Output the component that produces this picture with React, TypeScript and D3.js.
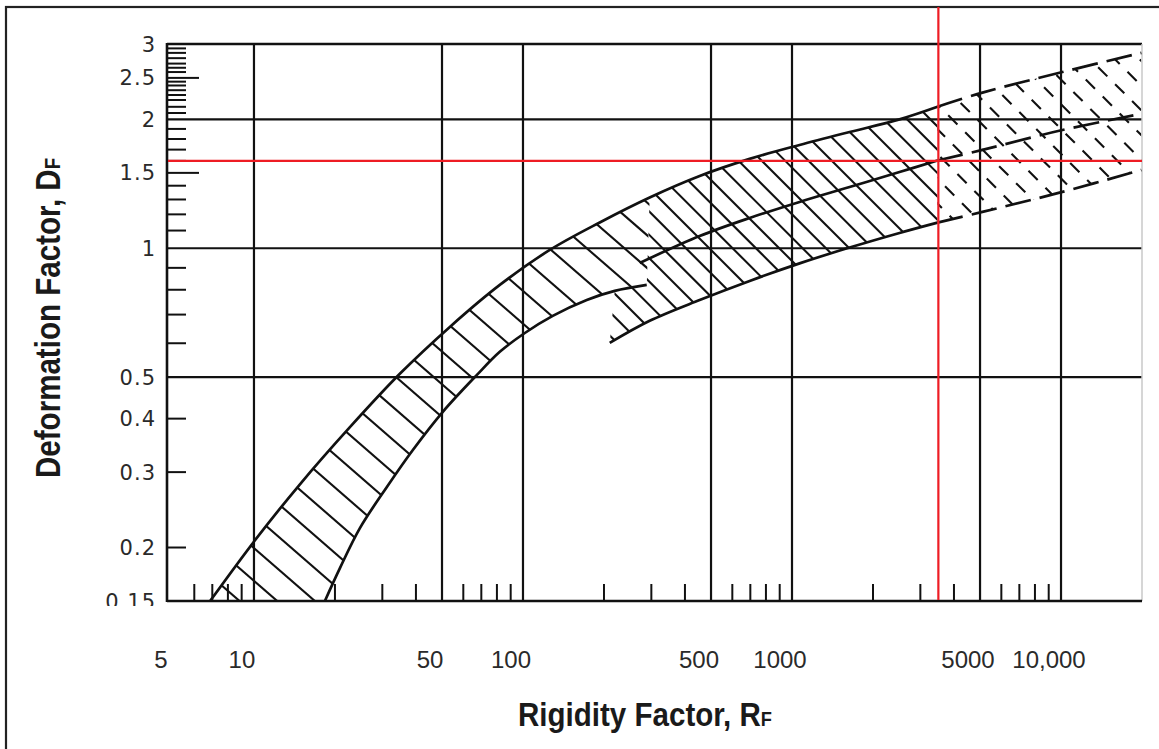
import React, { useEffect, useRef } from 'react';
import * as d3 from 'd3';

const WIDTH = 1159;
const HEIGHT = 749;

// Rigidity factor axis (log)
const xDomain = [4.75, 20000];
const xGridValues = [10, 50, 100, 500, 1000, 5000, 10000];
const xMinorValues = [6, 7, 8, 9, 20, 30, 40, 60, 70, 80, 90, 200, 300, 400, 600, 700, 800, 900,
  2000, 3000, 4000, 6000, 7000, 8000, 9000];
const xLabelValues = [5, 10, 50, 100, 500, 1000, 5000, 10000];

// Deformation factor axis (log)
const yDomain = [0.15, 3];
const yGridValues = [0.5, 1, 2];
const yMinorValues = [0.2, 0.3, 0.4, 0.6, 0.7, 0.8, 0.9, 1.1, 1.2, 1.3, 1.4, 1.6, 1.7, 1.8, 1.9,
  2.07, 2.14, 2.22, 2.28, 2.34, 2.4, 2.45, 2.58, 2.64, 2.7, 2.78, 2.86, 2.93];
const yLongValues = [1.5, 2.5];
const yLabelValues = [0.15, 0.2, 0.3, 0.4, 0.5, 1, 1.5, 2, 2.5, 3];

// red reading lines
const readRF = 3500;
const readDF = 1.6;

// band edges as [RF, DF]
const upperEdge = [[6.87, 0.15], [10.09, 0.208], [14.82, 0.281], [22.73, 0.382], [34.85, 0.509],
  [53.47, 0.655], [82, 0.821], [125.8, 0.991], [192.9, 1.149], [295.8, 1.314], [453.6, 1.475],
  [695.9, 1.617], [1067, 1.743], [1637, 1.869], [2510, 2.0], [3474, 2.14]];
const upperEdgeExt = [[3474, 2.14], [5105, 2.31], [10120, 2.58], [19890, 2.86]];
const middleEdge = [[271.6, 0.924], [453.6, 1.068], [695.9, 1.177], [1067, 1.283], [1637, 1.39],
  [2510, 1.507], [3474, 1.603]];
const middleEdgeExt = [[3474, 1.603], [5105, 1.697], [10120, 1.889], [19890, 2.06]];
const lowerEdgeA = [[18.35, 0.15], [20.87, 0.179], [24.76, 0.222], [31.19, 0.277], [38.96, 0.338],
  [50.36, 0.415], [67.4, 0.506], [82, 0.573], [101.6, 0.634], [129, 0.695], [172.6, 0.757],
  [219.3, 0.795], [288.4, 0.821]];
const lowerEdgeB = [[210.1, 0.601], [295.8, 0.677], [453.6, 0.757], [695.9, 0.839], [1067, 0.922],
  [1637, 1.004], [2510, 1.086], [3474, 1.148]];
const lowerEdgeBExt = [[3474, 1.148], [5105, 1.216], [10120, 1.354], [19890, 1.524]];

const fmtX = (d: number) => (d >= 10000 ? d3.format(',')(d) : String(d));

const App = () => {
  const svgRef = useRef<SVGSVGElement>(null);

  useEffect(() => {
    const margin = { top: 44, right: 17, bottom: 148, left: 167 };
    const left = margin.left;
    const right = WIDTH - margin.right;
    const top = margin.top;
    const bottom = HEIGHT - margin.bottom;

    const svg = d3.select(svgRef.current);
    svg.selectAll('*').remove();

    const x = d3.scaleLog().domain(xDomain).range([left, right]);
    const y = d3.scaleLog().domain(yDomain).range([bottom, top]);

    const ink = '#111';
    const red = '#ee1c24';

    const line = d3.line<number[]>()
      .x(d => x(d[0]))
      .y(d => y(d[1]))
      .curve(d3.curveCatmullRom.alpha(0.5));
    const pt = (p: number[]) => `${x(p[0])},${y(p[1])}`;

    const defs = svg.append('defs');

    // outer frame (cropped at right and bottom)
    svg.append('rect')
      .attr('x', 6).attr('y', 7)
      .attr('width', 1300).attr('height', 900)
      .attr('fill', 'none').attr('stroke', '#222').attr('stroke-width', 2.2);

    // hatch lines clipped to a region
    const hatch = (id: string, d: string, angle: number, spacing: number, phase: number, dash?: string) => {
      defs.append('clipPath').attr('id', id).append('path').attr('d', d);
      const a = (angle * Math.PI) / 180;
      const dir = [Math.cos(a), Math.sin(a)];
      const nrm = [-Math.sin(a), Math.cos(a)];
      const cs = [[left, top], [right, top], [left, bottom], [right, bottom]].map(p => p[0] * nrm[0] + p[1] * nrm[1]);
      const cMin = Math.floor((d3.min(cs)! - phase) / spacing) * spacing + phase;
      const cMax = d3.max(cs)!;
      const L = 1600;
      const g = svg.append('g').attr('clip-path', `url(#${id})`);
      g.selectAll('line')
        .data(d3.range(cMin, cMax + spacing, spacing))
        .join('line')
        .attr('x1', c => c * nrm[0] - L * dir[0])
        .attr('y1', c => c * nrm[1] - L * dir[1])
        .attr('x2', c => c * nrm[0] + L * dir[0])
        .attr('y2', c => c * nrm[1] + L * dir[1])
        .attr('stroke', ink)
        .attr('stroke-width', 2.1)
        .attr('stroke-dasharray', dash ?? null);
    };

    const upperA = upperEdge.filter(p => p[0] <= 296);
    const upperB = upperEdge.filter(p => p[0] >= 295);
    const regionA = line(upperA) + 'L' + (line([...lowerEdgeA].reverse()) as string).slice(1) + 'Z';
    const tailA = lowerEdgeA.filter(p => p[0] >= 219);
    const regionB = 'M' + tailA.map(pt).join('L') + 'L' + (line(upperB) as string).slice(1)
      + 'L' + (line([...lowerEdgeB].reverse()) as string).slice(1) + 'Z';
    const regionC = line(upperEdgeExt) + 'L' + (line([...lowerEdgeBExt].reverse()) as string).slice(1) + 'Z';

    hatch('hatchA', regionA, 41, 24.7, 0);
    hatch('hatchB', regionB, 45, 16.5, 4);
    hatch('hatchC', regionC, 45, 17.5, 6, '13 11');

    // grid lines
    svg.append('g').selectAll('line')
      .data(xGridValues)
      .join('line')
      .attr('x1', d => x(d)).attr('x2', d => x(d))
      .attr('y1', top).attr('y2', bottom)
      .attr('stroke', ink).attr('stroke-width', 2.2);

    svg.append('g').selectAll('line')
      .data(yGridValues)
      .join('line')
      .attr('x1', left).attr('x2', right)
      .attr('y1', d => y(d)).attr('y2', d => y(d))
      .attr('stroke', ink).attr('stroke-width', 2.2);

    // plot border
    svg.append('line').attr('x1', left).attr('x2', right).attr('y1', top).attr('y2', top)
      .attr('stroke', ink).attr('stroke-width', 2.4);
    svg.append('line').attr('x1', right).attr('x2', right).attr('y1', top).attr('y2', bottom)
      .attr('stroke', '#c8c8c8').attr('stroke-width', 1.5);

    // band edges
    const edges: [number[][], string | null][] = [
      [upperEdge, null], [lowerEdgeA, null], [middleEdge, null], [lowerEdgeB, null],
      [upperEdgeExt, '26 9'], [middleEdgeExt, '26 9'], [lowerEdgeBExt, '26 9'],
    ];
    svg.append('g').selectAll('path')
      .data(edges)
      .join('path')
      .attr('d', d => line(d[0]))
      .attr('fill', 'none')
      .attr('stroke', ink)
      .attr('stroke-width', 2.7)
      .attr('stroke-dasharray', d => d[1]);

    // axes
    svg.append('line').attr('x1', left).attr('x2', right).attr('y1', bottom).attr('y2', bottom)
      .attr('stroke', ink).attr('stroke-width', 2.6);
    svg.append('line').attr('x1', left).attr('x2', left).attr('y1', top - 1).attr('y2', bottom + 1)
      .attr('stroke', ink).attr('stroke-width', 2.6);

    svg.append('g').selectAll('line')
      .data(xMinorValues)
      .join('line')
      .attr('x1', d => x(d)).attr('x2', d => x(d))
      .attr('y1', bottom).attr('y2', bottom - 17)
      .attr('stroke', ink).attr('stroke-width', 2);

    svg.append('g').selectAll('line')
      .data([...yMinorValues, ...yLongValues])
      .join('line')
      .attr('x1', left).attr('x2', d => left + (yLongValues.includes(d) ? 32 : 19))
      .attr('y1', d => y(d)).attr('y2', d => y(d))
      .attr('stroke', ink).attr('stroke-width', 2);

    // red reading lines
    svg.append('line').attr('x1', x(readRF)).attr('x2', x(readRF)).attr('y1', 7).attr('y2', bottom - 1)
      .attr('stroke', red).attr('stroke-width', 2.2);
    svg.append('line').attr('x1', left + 1).attr('x2', right).attr('y1', y(readDF)).attr('y2', y(readDF))
      .attr('stroke', red).attr('stroke-width', 2.2);

    // tick labels
    svg.append('g').selectAll('text')
      .data(xLabelValues)
      .join('text')
      .attr('x', d => x(d) - 12)
      .attr('y', 668)
      .attr('text-anchor', 'middle')
      .style('font-family', "'Liberation Sans', Arial, sans-serif")
      .style('font-size', '24px')
      .style('fill', '#2a2a2a')
      .text(d => fmtX(d));

    // the lowest label is cut off by the frame in the original
    defs.append('clipPath').attr('id', 'yLabelClip')
      .append('rect').attr('x', 0).attr('y', 0).attr('width', left - 4).attr('height', 606);
    svg.append('g').attr('clip-path', 'url(#yLabelClip)').selectAll('text')
      .data(yLabelValues)
      .join('text')
      .attr('x', 156)
      .attr('y', d => y(d))
      .attr('dy', '0.36em')
      .attr('text-anchor', 'end')
      .style('font-family', "'DejaVu Sans', sans-serif")
      .style('font-size', '21px')
      .style('letter-spacing', '1px')
      .style('fill', '#2a2a2a')
      .text(d => String(d));

    // axis titles
    const titleFont = "'Liberation Sans Narrow', 'Arial Narrow', 'Liberation Sans', sans-serif";
    const xt = svg.append('text')
      .attr('x', 645).attr('y', 726)
      .attr('text-anchor', 'middle')
      .attr('textLength', 254).attr('lengthAdjust', 'spacingAndGlyphs')
      .style('font-family', titleFont).style('font-size', '34px').style('font-weight', 'bold')
      .style('fill', '#1a1a1a');
    xt.append('tspan').text('Rigidity Factor, R');
    xt.append('tspan').style('font-size', '21px').text('F');

    const yt = svg.append('text')
      .attr('transform', 'translate(60,318) rotate(-90)')
      .attr('text-anchor', 'middle')
      .attr('textLength', 320).attr('lengthAdjust', 'spacingAndGlyphs')
      .style('font-family', titleFont).style('font-size', '35px').style('font-weight', 'bold')
      .style('fill', '#1a1a1a');
    yt.append('tspan').text('Deformation Factor, D');
    yt.append('tspan').style('font-size', '22px').text('F');
  }, []);

  return (
    <svg
      ref={svgRef}
      width={WIDTH}
      height={HEIGHT}
      style={{ position: 'absolute', left: 0, top: 0, background: '#fff', display: 'block' }}
    />
  );
};

export default App;
